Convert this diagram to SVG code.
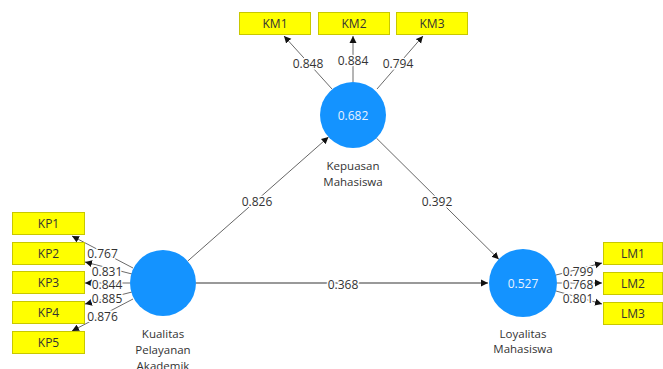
<svg xmlns="http://www.w3.org/2000/svg" width="663" height="369" viewBox="0 0 663 369">
<defs>
<marker id="ah" markerWidth="8" markerHeight="8" refX="7" refY="4" orient="auto" markerUnits="userSpaceOnUse">
<path d="M0,0.5 L7,4 L0,7.5 Z" fill="#111"/>
</marker>
<style>
.box{fill:#ffff00;stroke:#c8c800;stroke-width:1}
.bt{font-family:"Open Sans","Noto Sans",sans-serif;font-size:12px;fill:#333;text-anchor:middle;dominant-baseline:central}
.lv{fill:#1493ff}
.lvt{font-family:"Open Sans","Noto Sans",sans-serif;font-size:12px;fill:#e8f2ff;text-anchor:middle;dominant-baseline:central}
.nm{font-family:"Open Sans","Noto Sans",sans-serif;font-size:11.5px;fill:#333;text-anchor:middle;dominant-baseline:central}
.ol{stroke:#444;stroke-width:0.8;fill:none;marker-end:url(#ah)}
.sl{stroke:#555;stroke-width:0.9;fill:none;marker-end:url(#ah)}
.tl{stroke:#999;stroke-width:2;fill:none;marker-end:url(#ah)}
.lb{font-family:"Open Sans","Noto Sans",sans-serif;font-size:12px;fill:#333;text-anchor:middle;dominant-baseline:central;stroke:#fff;stroke-width:3;paint-order:stroke}
</style>
</defs>
<g id="connectors">
<line class="sl" x1="187.7" y1="261.1" x2="328.5" y2="137"/>
<line class="sl" x1="376.5" y1="138.2" x2="498.8" y2="259.3"/>
<line class="tl" x1="196" y1="283" x2="488" y2="283"/>
<line class="ol" x1="332" y1="89" x2="284" y2="36"/>
<line class="ol" x1="353" y1="82" x2="353" y2="36"/>
<line class="ol" x1="377" y1="89" x2="423" y2="36"/>
<line class="ol" x1="133" y1="268" x2="72" y2="236"/>
<line class="ol" x1="132" y1="274" x2="85" y2="262"/>
<line class="ol" x1="130" y1="283" x2="85" y2="283"/>
<line class="ol" x1="132" y1="292" x2="85" y2="304"/>
<line class="ol" x1="133" y1="299" x2="72" y2="331"/>
<line class="ol" x1="556" y1="275" x2="602" y2="263"/>
<line class="ol" x1="557" y1="283" x2="602" y2="283"/>
<line class="ol" x1="556" y1="291" x2="602" y2="304"/>
<text class="lb" x="257" y="201">0.826</text>
<text class="lb" x="437" y="201">0.392</text>
<text class="lb" x="343" y="284.5">0.368</text>
<text class="lb" x="308" y="63">0.848</text>
<text class="lb" x="353" y="60">0.884</text>
<text class="lb" x="398" y="63">0.794</text>
<text class="lb" x="102.5" y="253">0.767</text>
<text class="lb" x="107" y="271">0.831</text>
<text class="lb" x="107" y="284">0.844</text>
<text class="lb" x="107" y="298">0.885</text>
<text class="lb" x="102.5" y="316">0.876</text>
<text class="lb" x="578" y="271">0.799</text>
<text class="lb" x="578" y="284">0.768</text>
<text class="lb" x="578" y="298">0.801</text>
</g>
<g id="KM1"><rect class="box" x="239.5" y="12.5" width="71" height="22"/><text class="bt" x="275" y="23.5">KM1</text></g>
<g id="KM2"><rect class="box" x="318.5" y="12.5" width="71" height="22"/><text class="bt" x="354" y="23.5">KM2</text></g>
<g id="KM3"><rect class="box" x="396.5" y="12.5" width="71" height="22"/><text class="bt" x="432" y="23.5">KM3</text></g>
<g id="KP1"><rect class="box" x="12.5" y="212.5" width="72" height="22"/><text class="bt" x="48.5" y="223.5">KP1</text></g>
<g id="KP2"><rect class="box" x="12.5" y="242.5" width="72" height="22"/><text class="bt" x="48.5" y="253.5">KP2</text></g>
<g id="KP3"><rect class="box" x="12.5" y="271.5" width="72" height="22"/><text class="bt" x="48.5" y="282.5">KP3</text></g>
<g id="KP4"><rect class="box" x="12.5" y="301.5" width="72" height="22"/><text class="bt" x="48.5" y="312.5">KP4</text></g>
<g id="KP5"><rect class="box" x="12.5" y="331.5" width="72" height="22"/><text class="bt" x="48.5" y="342.5">KP5</text></g>
<g id="LM1"><rect class="box" x="603.5" y="242.5" width="59" height="22"/><text class="bt" x="633" y="253.5">LM1</text></g>
<g id="LM2"><rect class="box" x="603.5" y="272.5" width="59" height="22"/><text class="bt" x="633" y="283.5">LM2</text></g>
<g id="LM3"><rect class="box" x="603.5" y="302.5" width="59" height="22"/><text class="bt" x="633" y="313.5">LM3</text></g>
<g id="KepuasanMahasiswa"><circle class="lv" cx="353" cy="115" r="33"/><text class="lvt" x="353" y="115">0.682</text><text class="nm" x="353" y="165">Kepuasan</text><text class="nm" x="353" y="181.5">Mahasiswa</text></g>
<g id="KualitasPelayananAkademik"><circle class="lv" cx="163" cy="283" r="33"/><text class="nm" x="163" y="333">Kualitas</text><text class="nm" x="163" y="349">Pelayanan</text><text class="nm" x="163" y="365">Akademik</text></g>
<g id="LoyalitasMahasiswa"><circle class="lv" cx="523" cy="283" r="34"/><text class="lvt" x="523" y="283">0.527</text><text class="nm" x="523" y="333">Loyalitas</text><text class="nm" x="523" y="348">Mahasiswa</text></g>
</svg>
